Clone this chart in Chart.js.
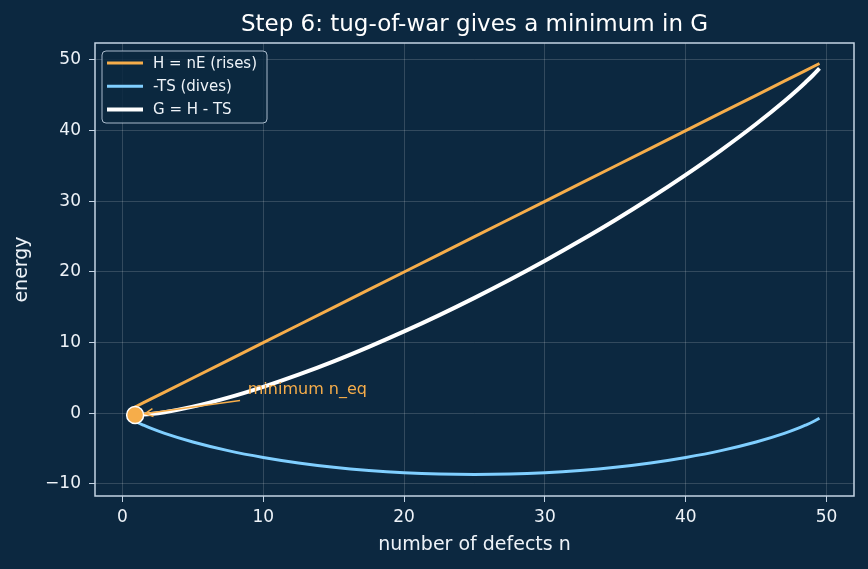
<!DOCTYPE html>
<html>
<head>
<meta charset="utf-8">
<script src="https://cdn.jsdelivr.net/npm/chart.js@4.4.1/dist/chart.umd.min.js"></script>
<style>
  html, body { margin: 0; padding: 0; background: #0c2840; }
  canvas { display: block; }
</style>
</head>
<body>
<canvas id="grafica" width="868" height="569"></canvas>
<script>
// Valores: número de defectos n y las tres curvas de energía
const nValues = [0.5, 1, 1.5, 2, 3, 5, 7.5, 10, 12.5, 15, 17.5, 20, 22.5, 25,
  27.5, 30, 32.5, 35, 37.5, 40, 42.5, 45, 47, 48, 48.5, 49, 49.5];
const hValues = [0.5, 1, 1.5, 2, 3, 5, 7.5, 10, 12.5, 15, 17.5, 20, 22.5, 25,
  27.5, 30, 32.5, 35, 37.5, 40, 42.5, 45, 47, 48, 48.5, 49, 49.5];
const tsValues = [-0.70, -1.23, -1.68, -2.10, -2.84, -4.06, -5.28, -6.25, -7.03, -7.64, -8.09, -8.41, -8.60, -8.66,
  -8.60, -8.41, -8.09, -7.64, -7.03, -6.25, -5.28, -4.06, -2.84, -2.10, -1.68, -1.23, -0.70];
const gValues = [-0.20, -0.23, -0.18, -0.10, 0.16, 0.94, 2.22, 3.75, 5.47, 7.36, 9.41, 11.59, 13.90, 16.34,
  18.90, 21.59, 24.41, 27.36, 30.47, 33.75, 37.22, 40.94, 44.16, 45.90, 46.82, 47.77, 48.80];

// Punto de equilibrio y su anotación
const neqX = [0.9];
const neqY = [-0.23];
const arrowX = [8.35, 0.9];
const arrowY = [1.8, -0.23];
const annotText = "minimum n_eq";
const annotX = 8.9;
const annotY = 2.77;

// Marcas de los ejes
const xTicks = [0, 10, 20, 30, 40, 50];
const yTicks = [-10, 0, 10, 20, 30, 40, 50];

const legendLabels = ["H = nE (rises)", "-TS (dives)", "G = H - TS"];
const titleText = "Step 6: tug-of-war gives a minimum in G";

// Colores
const fondo = "#0c2840";
const naranja = "#f6ad4a";
const celeste = "#80cfff";
const blanco = "#ffffff";
const borde = "#c4d4e4";
const texto = "#eef3f8";
const rejilla = "rgba(255,255,255,0.16)";

Chart.defaults.font.family = '"DejaVu Sans", sans-serif';

function puntos(xs, ys) {
  return xs.map((x, i) => ({ x: x, y: ys[i] }));
}

const decoracion = {
  id: "decoracion",
  beforeDraw(chart) {
    const ctx = chart.ctx;
    ctx.save();
    ctx.fillStyle = fondo;
    ctx.fillRect(0, 0, chart.width, chart.height);
    ctx.restore();
  },
  afterDatasetsDraw(chart) {
    const ctx = chart.ctx;
    const a = chart.chartArea;
    const sx = chart.scales.x;
    const sy = chart.scales.y;
    ctx.save();
    // marco del área
    ctx.strokeStyle = borde;
    ctx.lineWidth = 1.5;
    ctx.strokeRect(a.left, a.top, a.right - a.left, a.bottom - a.top);

    // punta de la flecha
    const x0 = sx.getPixelForValue(arrowX[0]), y0 = sy.getPixelForValue(arrowY[0]);
    const x1 = sx.getPixelForValue(arrowX[1]), y1 = sy.getPixelForValue(arrowY[1]);
    const len = Math.hypot(x1 - x0, y1 - y0);
    const ux = (x1 - x0) / len, uy = (y1 - y0) / len;
    const tx = x1 - ux * 10, ty = y1 - uy * 10;
    ctx.strokeStyle = naranja;
    ctx.lineWidth = 1.5;
    ctx.beginPath();
    ctx.moveTo(tx - ux * 8 - uy * 4, ty - uy * 8 + ux * 4);
    ctx.lineTo(tx, ty);
    ctx.lineTo(tx - ux * 8 + uy * 4, ty - uy * 8 - ux * 4);
    ctx.stroke();

    // texto de la anotación
    ctx.fillStyle = naranja;
    ctx.font = '16px "DejaVu Sans"';
    ctx.textAlign = "left";
    ctx.textBaseline = "alphabetic";
    ctx.fillText(annotText, sx.getPixelForValue(annotX), sy.getPixelForValue(annotY));
    ctx.restore();
  },
  afterDraw(chart) {
    // leyenda dentro del área, arriba a la izquierda
    const ctx = chart.ctx;
    const a = chart.chartArea;
    const lx = a.left + 7, ly = a.top + 8, lw = 165, lh = 72, r = 4;
    const colores = [naranja, celeste, blanco];
    const grosores = [3, 3, 4];
    ctx.save();
    ctx.beginPath();
    ctx.moveTo(lx + r, ly);
    ctx.lineTo(lx + lw - r, ly);
    ctx.quadraticCurveTo(lx + lw, ly, lx + lw, ly + r);
    ctx.lineTo(lx + lw, ly + lh - r);
    ctx.quadraticCurveTo(lx + lw, ly + lh, lx + lw - r, ly + lh);
    ctx.lineTo(lx + r, ly + lh);
    ctx.quadraticCurveTo(lx, ly + lh, lx, ly + lh - r);
    ctx.lineTo(lx, ly + r);
    ctx.quadraticCurveTo(lx, ly, lx + r, ly);
    ctx.closePath();
    ctx.fillStyle = "rgba(12,40,64,0.85)";
    ctx.fill();
    ctx.strokeStyle = "rgba(196,212,228,0.85)";
    ctx.lineWidth = 1;
    ctx.stroke();

    ctx.font = '15px "DejaVu Sans"';
    ctx.textAlign = "left";
    ctx.textBaseline = "middle";
    legendLabels.forEach((etiqueta, i) => {
      const yy = ly + 12 + i * 23.3;
      ctx.strokeStyle = colores[i];
      ctx.lineWidth = grosores[i];
      ctx.beginPath();
      ctx.moveTo(lx + 5, yy);
      ctx.lineTo(lx + 41, yy);
      ctx.stroke();
      ctx.fillStyle = texto;
      ctx.fillText(etiqueta, lx + 51, yy + 1);
    });
    ctx.restore();
  }
};

const lienzo = document.getElementById("grafica").getContext("2d");

const chart = new Chart(lienzo, {
  type: "line",
  data: {
    datasets: [
      {
        label: "n_eq",
        data: puntos(neqX, neqY),
        showLine: false,
        pointRadius: 8.5,
        pointBackgroundColor: naranja,
        pointBorderColor: blanco,
        pointBorderWidth: 1.5,
        order: 1
      },
      {
        label: "flecha",
        data: puntos(arrowX, arrowY),
        borderColor: naranja,
        borderWidth: 1.5,
        pointRadius: 0,
        order: 2
      },
      {
        label: legendLabels[2],
        data: puntos(nValues, gValues),
        borderColor: blanco,
        borderWidth: 4,
        pointRadius: 0,
        cubicInterpolationMode: "monotone",
        order: 3
      },
      {
        label: legendLabels[1],
        data: puntos(nValues, tsValues),
        borderColor: celeste,
        borderWidth: 3,
        pointRadius: 0,
        cubicInterpolationMode: "monotone",
        order: 4
      },
      {
        label: legendLabels[0],
        data: puntos(nValues, hValues),
        borderColor: naranja,
        borderWidth: 3,
        pointRadius: 0,
        order: 5
      }
    ]
  },
  options: {
    responsive: false,
    animation: false,
    layout: { padding: { left: 0, right: 14, top: 0, bottom: 0 } },
    plugins: {
      legend: { display: false },
      tooltip: { enabled: false },
      title: {
        display: true,
        fullSize: false,
        text: titleText,
        color: blanco,
        font: { size: 23, weight: "normal" },
        padding: { top: 11, bottom: 4.4 }
      }
    },
    scales: {
      x: {
        type: "linear",
        min: -1.95,
        max: 51.95,
        afterBuildTicks: (s) => { s.ticks = xTicks.map((v) => ({ value: v })); },
        afterFit: (s) => { s.height = 73; },
        border: { display: false },
        grid: { color: rejilla, lineWidth: 1, tickLength: 6, tickColor: borde },
        ticks: { color: texto, font: { size: 17 }, padding: 5, maxRotation: 0 },
        title: {
          display: true,
          text: "number of defects n",
          color: texto,
          font: { size: 19 },
          padding: { top: 0, bottom: 13 }
        }
      },
      y: {
        type: "linear",
        min: -11.7,
        max: 52.4,
        afterBuildTicks: (s) => { s.ticks = yTicks.map((v) => ({ value: v })); },
        afterFit: (s) => { s.width = 95; },
        border: { display: false },
        grid: { color: rejilla, lineWidth: 1, tickLength: 6, tickColor: borde },
        ticks: {
          color: texto,
          font: { size: 17 },
          padding: 8,
          callback: (v) => String(v).replace("-", "\u2212")
        },
        title: {
          display: true,
          text: "energy",
          color: texto,
          font: { size: 19 },
          padding: { top: 10.5, bottom: 0 }
        }
      }
    }
  },
  plugins: [decoracion]
});
</script>
</body>
</html>
